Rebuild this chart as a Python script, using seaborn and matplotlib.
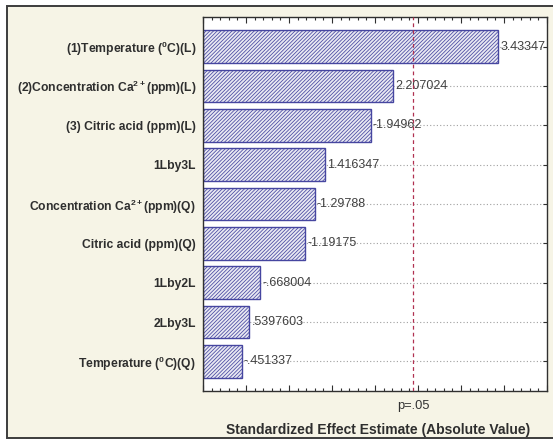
import re
import numpy as np
import pandas as pd
import seaborn as sns
import matplotlib
matplotlib.use("Agg")
import matplotlib.pyplot as plt
from matplotlib.patches import Rectangle
from matplotlib.ticker import MultipleLocator, NullFormatter

# Pareto chart of standardized effects
effects = [
    r"(1)Temperature ($^0$C)(L)",
    r"(2)Concentration Ca$^{2+}$(ppm)(L)",
    r"(3) Citric acid (ppm)(L)",
    "1Lby3L",
    r"Concentration Ca$^{2+}$(ppm)(Q)",
    r"Citric acid (ppm)(Q)",
    "1Lby2L",
    "2Lby3L",
    r"Temperature ($^0$C)(Q)",
]
estimates = [3.43347, 2.207024, -1.94962, 1.416347, -1.29788,
             -1.19175, -0.668004, 0.5397603, -0.451337]
p_critical = 2.4469
p_label = "p=.05"
x_title = "Standardized Effect Estimate (Absolute Value)"

sns.set_theme(style="white")
plt.rcParams["font.family"] = ["Liberation Sans", "DejaVu Sans"]
plt.rcParams["mathtext.fontset"] = "custom"
plt.rcParams["mathtext.rm"] = "Liberation Sans:bold"
plt.rcParams["mathtext.it"] = "Liberation Sans:bold"
plt.rcParams["mathtext.bf"] = "Liberation Sans:bold"
plt.rcParams["hatch.color"] = "#7878a8"
plt.rcParams["hatch.linewidth"] = 0.55
plt.rcParams["xtick.direction"] = "in"
plt.rcParams["ytick.direction"] = "in"


def fmt(v):
    s = f"{v:.7g}"
    return re.sub(r"^(-?)0\.", r"\1.", s)


df = pd.DataFrame({"effect": effects, "estimate": estimates})
df["magnitude"] = df["estimate"].abs()

fig = plt.figure(figsize=(5.53, 4.42), dpi=100, facecolor="white")
fig.patches.append(Rectangle((7 / 553, 4 / 442), 1.0, 1 - 10 / 442,
                             transform=fig.transFigure, facecolor="#f6f4e6",
                             edgecolor="#3c3c3c", linewidth=1.4, zorder=-10))
ax = fig.add_axes([203 / 553, 1 - 391 / 442, 344 / 553, 374 / 442])
ax.set_facecolor("white")

sns.barplot(data=df, x="magnitude", y="effect", orient="h", ax=ax,
            color="#e8e8f2", edgecolor="#4646a0", linewidth=1.0,
            hatch="/////////", width=0.83, saturation=1, zorder=2)

ax.set_axisbelow(True)
ax.yaxis.grid(True, linestyle=(0, (1, 2)), color="#a0a0a0", linewidth=0.8)
ax.xaxis.grid(False)

for i, (m, v) in enumerate(zip(df["magnitude"], df["estimate"])):
    ax.annotate(fmt(v), xy=(m, i), xytext=(1.5, 0), textcoords="offset points",
                ha="left", va="center", fontsize=9, color="#404040",
                annotation_clip=False, clip_on=True, zorder=3)

ax.axvline(p_critical, color="#b03050", linestyle=(0, (3, 2.5)),
           linewidth=0.9, zorder=4)

ax.set_xlim(0, 4)
ax.set_ylim(len(effects) - 0.25, -0.75)
ax.xaxis.set_major_locator(MultipleLocator(0.5))
ax.xaxis.set_minor_locator(MultipleLocator(0.1))
ax.xaxis.set_major_formatter(NullFormatter())
ax.tick_params(axis="x", which="both", direction="in", top=True, bottom=True,
               color="#303030", width=0.8)
ax.tick_params(axis="x", which="major", length=4)
ax.tick_params(axis="x", which="minor", length=2)
ax.tick_params(axis="y", direction="in", left=True, right=True, length=3,
               color="#303030", width=0.8, pad=5, labelsize=8.7,
               labelcolor="#2e2e2e")
for lbl in ax.get_yticklabels():
    lbl.set_fontweight("bold")
ax.set_ylabel("")
ax.set_xlabel("")
for sp in ax.spines.values():
    sp.set_visible(True)
    sp.set_color("#303030")
    sp.set_linewidth(1.0)

ax.text(p_critical, -0.025, p_label, transform=ax.get_xaxis_transform(),
        ha="center", va="top", fontsize=9.3, color="#333333")
fig.text(378 / 553, 1 - 430 / 442, x_title, ha="center", va="center",
         fontsize=10, fontweight="bold", color="#2e2e2e")

fig.savefig("out.png", dpi=100, facecolor=fig.get_facecolor())
